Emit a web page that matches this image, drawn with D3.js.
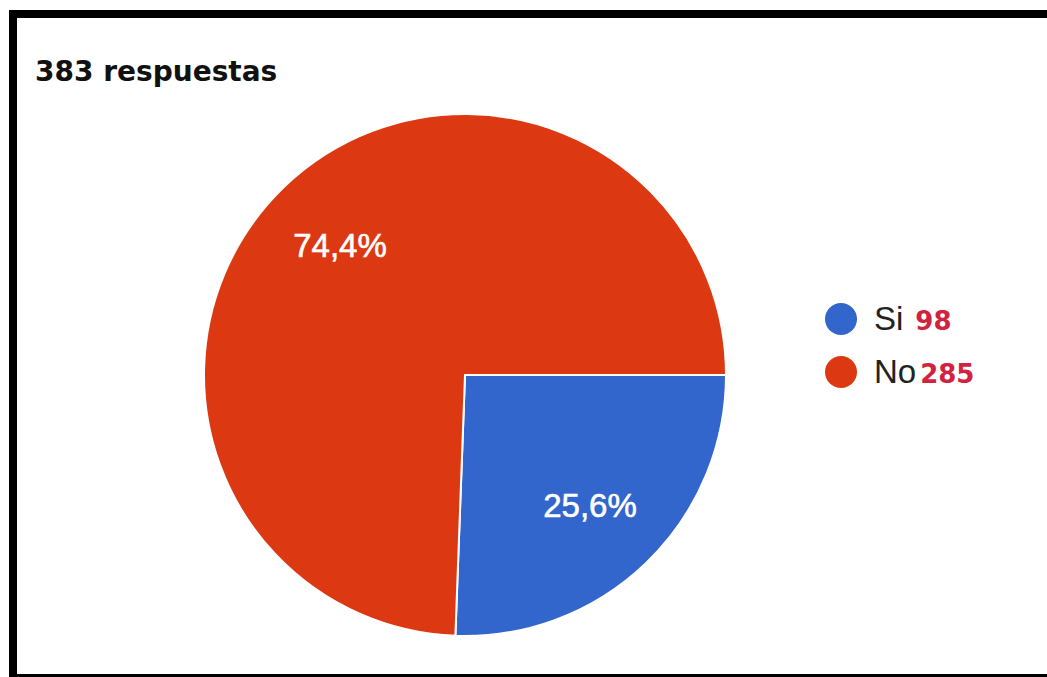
<!DOCTYPE html>
<html>
<head>
<meta charset="utf-8">
<script src="https://cdn.jsdelivr.net/npm/d3@7"></script>
<style>
  body { margin: 0; background: #fff; }
  svg { display: block; }
</style>
</head>
<body>
<svg id="chart"></svg>
<script>
// datos de la encuesta
const categories = ["Si", "No"];
const counts = [98, 285];
const percentLabels = ["25,6%", "74,4%"];
const colors = ["#3366cc", "#dc3912"];
const title = "383 respuestas";

var width = 1047,
  height = 677,
  radius = 261;

var svg = d3.select("#chart").attr("width", width).attr("height", height);

// marco negro
svg.append("rect")
  .attr("x", 13)
  .attr("y", 14)
  .attr("width", 1100)
  .attr("height", 664)
  .attr("fill", "#fff")
  .attr("stroke", "#000")
  .attr("stroke-width", 8);

svg.append("text")
  .attr("x", 35)
  .attr("y", 81)
  .style("font-family", "DejaVu Sans")
  .style("font-weight", "bold")
  .style("font-size", "28px")
  .style("fill", "#111")
  .text(title);

var data = categories.map((c, i) => ({ key: c, value: counts[i], label: percentLabels[i], color: colors[i] }));

var pie = d3.pie()
  .sort(null)
  .startAngle(Math.PI / 2)
  .endAngle(Math.PI / 2 + 2 * Math.PI)
  .value((d) => d.value);

var arc = d3.arc().outerRadius(radius).innerRadius(0);
var labelArc = d3.arc().outerRadius(radius * 0.69).innerRadius(radius * 0.69);

var g = svg.append("g").attr("transform", "translate(465,375)");

var slices = g.selectAll(".arc")
  .data(pie(data))
  .enter()
  .append("g")
  .attr("class", "arc");

slices.append("path")
  .attr("d", arc)
  .style("fill", (d) => d.data.color)
  .style("stroke", "#fff")
  .style("stroke-width", 2);

slices.append("text")
  .attr("transform", (d) => "translate(" + labelArc.centroid(d) + ")")
  .attr("dy", "0.36em")
  .attr("text-anchor", "middle")
  .style("font-family", "Liberation Sans, Arial, sans-serif")
  .style("font-size", "33px")
  .style("fill", "#fff")
  .style("stroke", "#fff")
  .style("stroke-width", 0.6)
  .text((d) => d.data.label);

// leyenda
var legendX = 841, legendY = 319, step = 53;
var legend = svg.append("g");

legend.selectAll("circle")
  .data(data)
  .enter()
  .append("circle")
  .attr("cx", legendX)
  .attr("cy", (d, i) => legendY + i * step)
  .attr("r", 16)
  .style("fill", (d) => d.color);

var items = legend.selectAll("text.name")
  .data(data)
  .enter()
  .append("text")
  .attr("class", "name")
  .attr("x", legendX + 33)
  .attr("y", (d, i) => legendY + 11 + i * step)
  .style("font-family", "Liberation Sans, Arial, sans-serif")
  .style("font-size", "33px")
  .style("fill", "#222");

items.append("tspan").text((d) => d.key);
items.append("tspan")
  .attr("dx", (d, i) => (i === 0 ? 12 : 4))
  .style("font-family", "DejaVu Sans")
  .style("font-weight", "bold")
  .style("font-size", "26px")
  .style("fill", "#d0233f")
  .text((d) => d.value);
</script>
</body>
</html>
